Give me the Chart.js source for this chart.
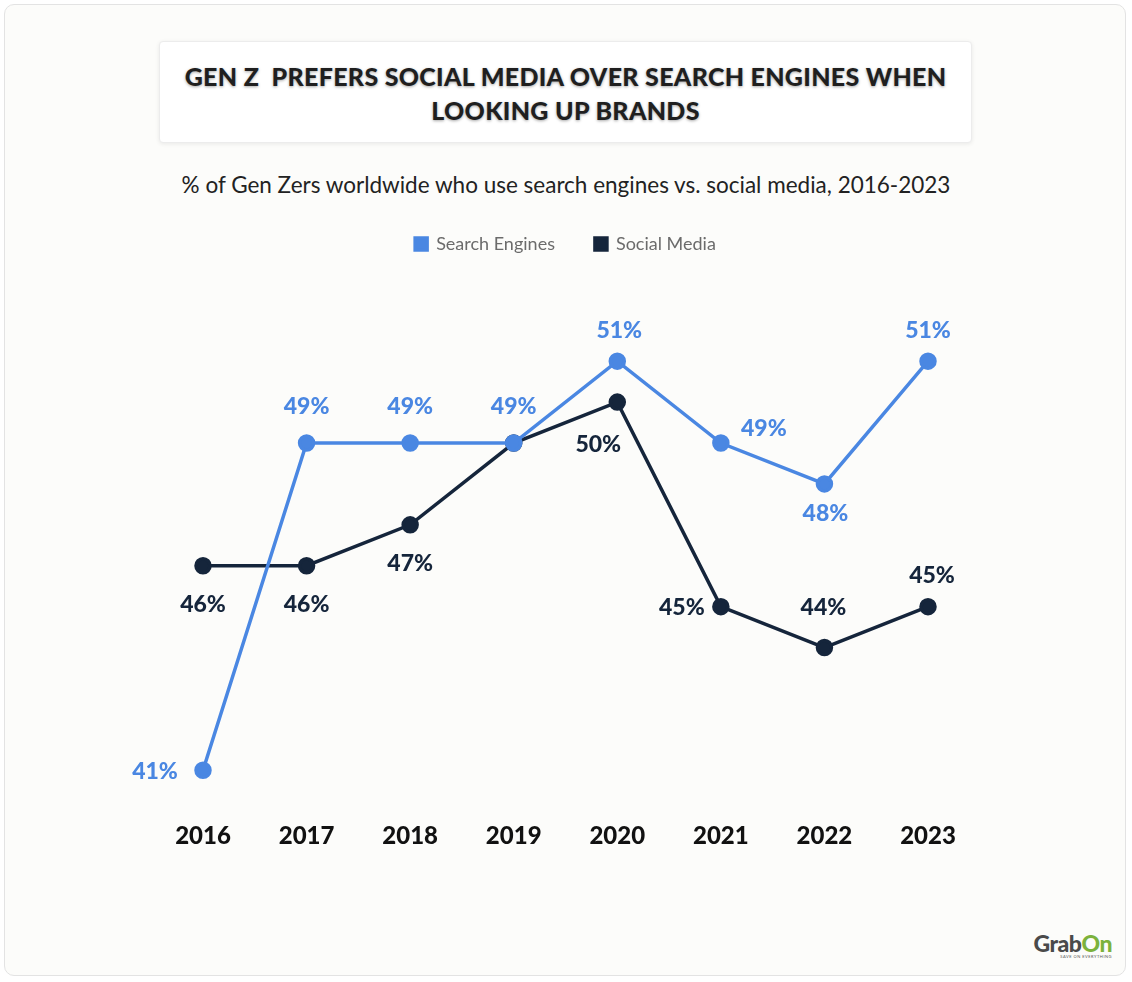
<!DOCTYPE html>
<html>
<head>
<meta charset="utf-8">
<script src="https://cdn.jsdelivr.net/npm/chart.js"></script>
<style>
  html, body { margin: 0; padding: 0; background: #fff; }
  body { width: 1132px; height: 982px; position: relative; font-family: Lato, sans-serif; }
  .card { position: absolute; left: 4px; top: 4px; width: 1122px; height: 972px; background: #fcfcfa;
          border: 1px solid #e3e3e3; border-radius: 10px; box-sizing: border-box; }
  .titlebox { position: absolute; left: 159px; top: 41px; width: 813px; height: 102px; background: #fff;
              border: 1px solid #ececec; border-radius: 4px; box-shadow: 0 1px 4px rgba(0,0,0,0.08);
              box-sizing: border-box; }
  .title { position: absolute; left: 159px; top: 59px; width: 813px; text-align: center; font-weight: 900;
           font-size: 25px; line-height: 34px; color: #1f1f1f; letter-spacing: 0.3px;
           text-shadow: 0 1px 3px rgba(0,0,0,0.35); }
  .sub { position: absolute; left: 0; top: 171px; width: 1132px; text-align: center; font-size: 22.5px; color: #222; }
  #wrap { position: absolute; left: 0; top: 155px; width: 1132px; height: 747px; }
  .logo { position: absolute; right: 20px; top: 929px; font-family: Lato, sans-serif; font-weight: 900; font-size: 23px; color: #4a4a4a; letter-spacing: -0.5px; }
  .logo span { color: #7cb23c; }
  .logo small { display: block; font-size: 4px; font-weight: 400; letter-spacing: 0.5px; text-align: right; margin-top: -3px; color: #555; }
</style>
</head>
<body>
<div class="card"></div>
<div class="titlebox"></div>
<div class="title">GEN Z&nbsp; PREFERS SOCIAL MEDIA OVER SEARCH ENGINES WHEN<br>LOOKING UP BRANDS</div>
<div class="sub">% of Gen Zers worldwide who use search engines vs. social media, 2016-2023</div>
<div id="wrap"><canvas id="genz-chart"></canvas></div>
<div class="logo">Grab<span>On</span><small>SAVE ON EVERYTHING</small></div>
<script>
// data
const years = ['2016', '2017', '2018', '2019', '2020', '2021', '2022', '2023'];
const searchEngines = [41, 49, 49, 49, 51, 49, 48, 51];
const socialMedia = [46, 46, 47, 49, 50, 45, 44, 45];

// where each value label sits relative to its point (null = no label)
const searchLabelPos = [[-48, 1], [0, -36], [0, -36], [0, -36], [2, -31], [43, -14], [1, 30], [0, -31]];
const socialLabelPos = [[0, 39], [0, 39], [0, 39], null, [-19, 42], [-39, 1], [-1, -40], [4, -31]];

const BLUE = '#4a87e2';
const NAVY = '#15253b';

const valueLabels = {
    id: 'valueLabels',
    afterDatasetsDraw(chart) {
        const ctx = chart.ctx;
        ctx.save();
        ctx.font = '900 23px Lato';
        ctx.textAlign = 'center';
        ctx.textBaseline = 'middle';
        chart.data.datasets.forEach((ds, i) => {
            const meta = chart.getDatasetMeta(i);
            meta.data.forEach((pt, j) => {
                const off = ds.labelPos[j];
                if (!off) return;
                ctx.fillStyle = ds.borderColor;
                ctx.fillText(ds.data[j] + '%', pt.x + off[0], pt.y + off[1]);
            });
        });
        ctx.restore();
    }
};

const GENZ_Chart = document.getElementById('genz-chart');

const genzChart = new Chart(GENZ_Chart, {
    type: 'line',
    data: {
        labels: years,
        datasets: [
            {
                label: 'Search Engines',
                data: searchEngines,
                labelPos: searchLabelPos,
                borderColor: BLUE,
                backgroundColor: BLUE,
                borderWidth: 3.5,
                pointRadius: 7,
                pointHoverRadius: 7,
                clip: false,
            },
            {
                label: 'Social Media',
                data: socialMedia,
                labelPos: socialLabelPos,
                borderColor: NAVY,
                backgroundColor: NAVY,
                borderWidth: 3.5,
                pointRadius: 7,
                pointHoverRadius: 7,
                clip: false,
            },
        ],
    },
    options: {
        responsive: true,
        maintainAspectRatio: false,
        animation: false,
        layout: { padding: { left: 203, right: 204, top: 40, bottom: 40 } },
        plugins: {
            legend: {
                position: 'top',
                labels: {
                    boxWidth: 12,
                    boxHeight: 12,
                    padding: 40,
                    color: '#6b6b6b',
                    font: { family: 'Lato', size: 18 },
                },
            },
            tooltip: { enabled: false },
        },
        scales: {
            x: {
                offset: false,
                grid: { display: false, drawTicks: false },
                border: { display: false },
                ticks: { color: '#111', padding: 11, font: { family: 'Lato', size: 24, weight: '900' } },
            },
            y: {
                display: false,
                min: 40,
                max: 53.4,
            },
        },
    },
    plugins: [valueLabels],
});
</script>
</body>
</html>
